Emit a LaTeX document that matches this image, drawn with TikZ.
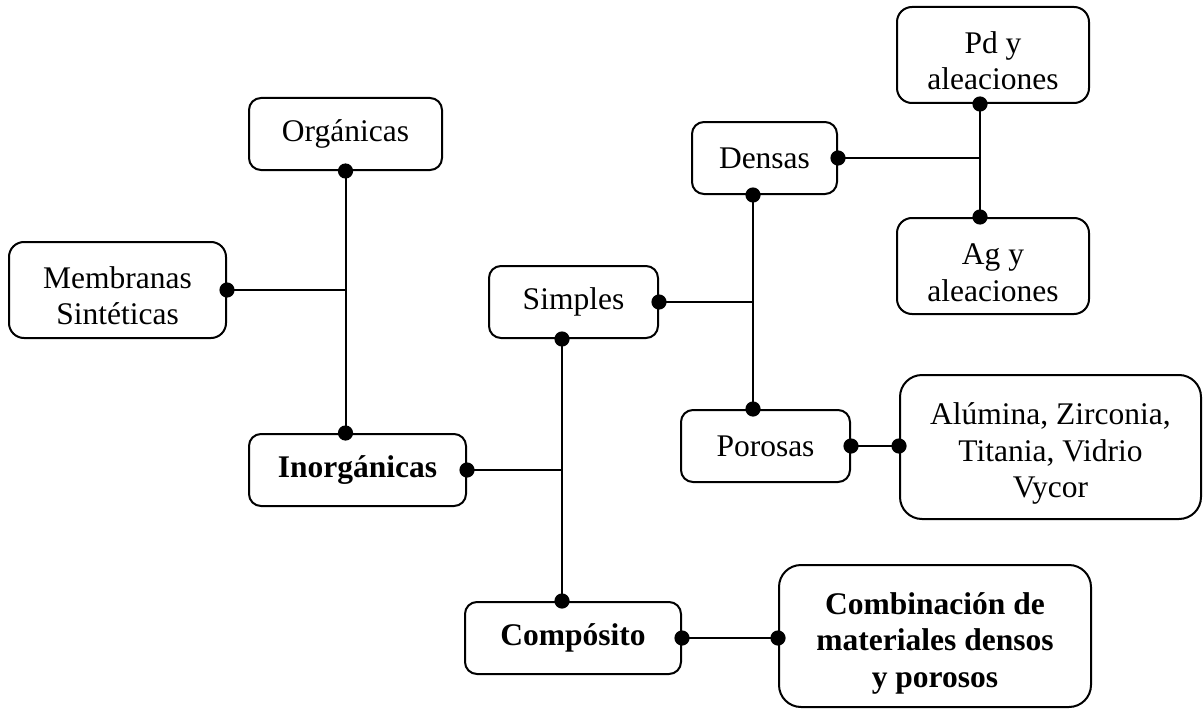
\documentclass[tikz,border=0pt]{standalone}
\usepackage{fontspec}
\setmainfont{Liberation Serif}
\usetikzlibrary{calc}
\newcommand\topstrut[1]{\rule{0pt}{#1}}
\begin{document}
\begin{tikzpicture}[x=1pt,y=-1pt,
  box/.style={draw, line width=2pt, align=center, inner sep=0pt,
    font=\fontsize{31.5}{36.5}\selectfont},
  conn/.style={line width=2pt},
  dotr/.style={radius=7.6pt}]
\useasboundingbox (0,0) rectangle (1203,709);

% boxes
\node[box, minimum width=193pt, minimum height=72pt, rounded corners=12pt] (org) at (345.5,134) {Orgánicas};
\node[box, minimum width=217pt, minimum height=96pt, rounded corners=15pt] (mem) at (117.5,290) {\topstrut{33pt}Membranas\\Sintéticas};
\node[box, minimum width=217pt, minimum height=72pt, rounded corners=12pt] (inorg) at (357.5,470) {\textbf{Inorgánicas}};
\node[box, minimum width=169pt, minimum height=72pt, rounded corners=12pt] (simples) at (573.5,302) {Simples};
\node[box, minimum width=145pt, minimum height=72pt, rounded corners=12pt] (densas) at (764.5,158) {Densas};
\node[box, minimum width=192pt, minimum height=96pt, rounded corners=15pt] (pd) at (993,55) {\topstrut{33pt}Pd y\\aleaciones};
\node[box, minimum width=192pt, minimum height=96pt, rounded corners=15pt] (ag) at (993,266) {\topstrut{34pt}Ag y\\aleaciones};
\node[box, minimum width=169pt, minimum height=72pt, rounded corners=12pt] (por) at (765.5,446) {Porosas};
\node[box, minimum width=301pt, minimum height=144pt, rounded corners=22pt] (alu) at (1050.5,447) {\topstrut{35pt}Alúmina, Zirconia,\\Titania, Vidrio\\Vycor};
\node[box, minimum width=216pt, minimum height=72pt, rounded corners=12pt] (comp) at (573,638) {\textbf{Compósito}};
\node[box, minimum width=312pt, minimum height=142pt, rounded corners=22pt] (comb) at (935,636) {\topstrut{36pt}\textbf{Combinación de}\\\textbf{materiales densos}\\\textbf{y porosos}};

% junction coordinates
\coordinate (sb) at ($(simples.south)+(-11.5,0)$);
\coordinate (db) at ($(densas.south)+(-11.5,0)$);
\coordinate (pb) at ($(pd.south)+(-13,0)$);

% connectors
\draw[conn] (org.south) -- (org.south |- inorg.north);
\draw[conn] (mem.east) -- (mem.east -| org.south);
\draw[conn] (sb) -- (sb |- comp.north);
\draw[conn] (inorg.east) -- (inorg.east -| sb);
\draw[conn] (db) -- (db |- por.north);
\draw[conn] (simples.east) -- (simples.east -| db);
\draw[conn] (pb) -- (pb |- ag.north);
\draw[conn] (densas.east) -- (densas.east -| pb);
\draw[conn] (por.east) -- (por.east -| alu.west);
\draw[conn] (comp.east) -- (comp.east -| comb.west);

% dots
\fill[dotr] (org.south) circle[] (org.south |- inorg.north) circle[] (mem.east) circle[];
\fill[dotr] (sb) circle[] (sb |- comp.north) circle[] (inorg.east) circle[];
\fill[dotr] (db) circle[] (db |- por.north) circle[] (simples.east) circle[];
\fill[dotr] (pb) circle[] (pb |- ag.north) circle[] (densas.east) circle[];
\fill[dotr] (por.east) circle[] (por.east -| alu.west) circle[];
\fill[dotr] (comp.east) circle[] (comp.east -| comb.west) circle[];
\end{tikzpicture}
\end{document}
